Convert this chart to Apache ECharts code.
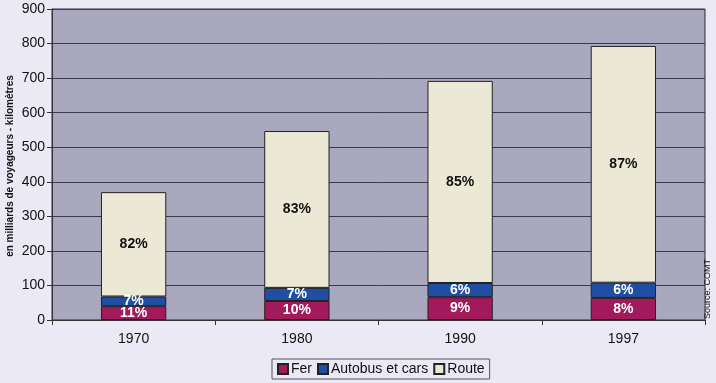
<!DOCTYPE html>
<html><head><meta charset="utf-8">
<script src="https://cdn.jsdelivr.net/npm/echarts@6/dist/echarts.min.js"></script>
<style>html,body{margin:0;padding:0;background:#ebe9f5;}#c{width:716px;height:383px;}</style>
</head><body><div id="c"></div>
<script>
var categories = ['1970', '1980', '1990', '1997'];
var fer = [40, 55, 66, 64];
var autobus = [28, 38, 41, 44];
var route = [302, 454, 585, 685];
var ferPct = ['11%', '10%', '9%', '8%'];
var autobusPct = ['7%', '7%', '6%', '6%'];
var routePct = ['82%', '83%', '85%', '87%'];
var yTitle = 'en milliards de voyageurs - kilomètres';

var chart = echarts.init(document.getElementById('c'));
function lab(arr, color) {
  return {show: true, position: 'inside', color: color, fontFamily: 'Liberation Sans, Arial', fontWeight: 'bold', fontSize: 14,
    formatter: function (p) { return arr[p.dataIndex]; }};
}
chart.setOption({
  backgroundColor: '#ebe9f5',
  animation: false,
  grid: {left: 52, right: 11, top: 9, bottom: 63, outerBoundsMode: 'none', containLabel: false,
    show: true, backgroundColor: '#a9a8bf', borderColor: '#2a2a35', borderWidth: 1},
  xAxis: {type: 'category', data: categories,
    axisLine: {lineStyle: {color: '#333'}}, axisTick: {show: true, lineStyle: {color: '#333'}},
    axisLabel: {color: '#111', fontFamily: 'Liberation Sans, Arial', fontSize: 14, margin: 12}},
  yAxis: {type: 'value', min: 0, max: 900, interval: 100,
    axisLine: {show: true, lineStyle: {color: '#333'}}, axisTick: {show: true, lineStyle: {color: '#333'}},
    splitLine: {lineStyle: {color: '#3a3a4a', width: 1}},
    axisLabel: {color: '#111', fontFamily: 'Liberation Sans, Arial', fontSize: 14, margin: 7}},
  legend: {bottom: 4, left: 272, itemWidth: 10, itemHeight: 10, itemGap: 5, icon: 'rect',
    borderColor: '#555', borderWidth: 1, padding: [3, 5], backgroundColor: 'transparent',
    textStyle: {fontFamily: 'Liberation Sans, Arial', fontSize: 14, color: '#111', padding: [0, 0, 0, -2]},
    data: ['Fer', 'Autobus et cars', 'Route']},
  series: [
    {name: 'Fer', type: 'bar', stack: 't', data: fer, barWidth: '40%',
      itemStyle: {color: '#a21a5c', borderColor: '#222', borderWidth: 1}, label: lab(ferPct, '#fff')},
    {name: 'Autobus et cars', type: 'bar', stack: 't', data: autobus,
      itemStyle: {color: '#1f4ea3', borderColor: '#222', borderWidth: 1}, label: lab(autobusPct, '#fff')},
    {name: 'Route', type: 'bar', stack: 't', data: route,
      itemStyle: {color: '#ece8d6', borderColor: '#222', borderWidth: 1}, label: lab(routePct, '#111')}
  ],
  graphic: [
    {type: 'text', x: 10, y: 166, rotation: Math.PI / 2,
      style: {text: yTitle, fontFamily: 'Liberation Sans, Arial', fontWeight: 'bold', fontSize: 10, fill: '#111', textAlign: 'center', textVerticalAlign: 'middle'}},
    {type: 'text', x: 712, y: 319, rotation: Math.PI / 2,
      style: {text: 'Source: COMT', fontFamily: 'Liberation Sans, Arial', fontSize: 9, fill: '#111', textAlign: 'left', textVerticalAlign: 'bottom'}}]
});
</script></body></html>
